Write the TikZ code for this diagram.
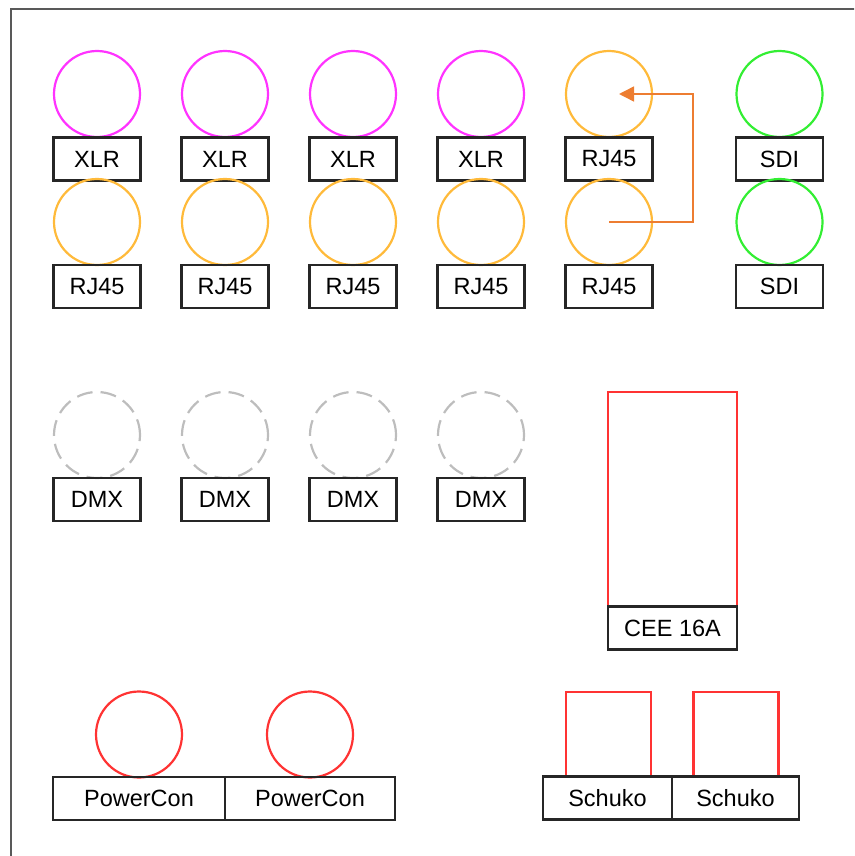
\documentclass[tikz,border=0pt]{standalone}
\usepackage{fontspec}
\setmainfont{Liberation Sans}
\usetikzlibrary{arrows.meta}

\definecolor{xlrpink}{HTML}{FF33FF}
\definecolor{rjgold}{HTML}{FFBA3A}
\definecolor{sdigreen}{HTML}{33EE33}
\definecolor{powerred}{HTML}{FF3333}
\definecolor{dmxgray}{HTML}{BDBDBD}
\definecolor{linkorange}{HTML}{ED7D31}

\tikzset{
  port/.style={circle, draw=#1, line width=2.2pt, minimum size=86pt, inner sep=0pt},
  socket/.style={rectangle, draw=powerred, line width=2.2pt, inner sep=0pt},
  tag/.style={rectangle, draw=black!85, line width=2.2pt, minimum width=87pt,
    minimum height=43pt, inner sep=0pt, font=\fontsize{23.5}{26}\selectfont},
}

\begin{document}
\begin{tikzpicture}[x=1pt,y=-1pt]
  \clip (0,0) rectangle (854,856);

  % Panel frame
  \draw[black!65, line width=2.8pt] (11,9) rectangle (900,900);

  % XLR / RJ45 / DMX columns
  \foreach \i/\x in {1/97,2/225,3/353,4/481} {
    \node[port=xlrpink] (xlr\i) at (\x,94) {};
    \node[tag] (xlrtag\i) at (\x,159) {XLR};
    \node[port=rjgold] (rj\i) at (\x,222) {};
    \node[tag] (rjtag\i) at (\x,286.5) {RJ45};
    \node[port=dmxgray, dashed, dash pattern=on 16pt off 8pt] (dmx\i) at (\x,435) {};
    \node[tag] (dmxtag\i) at (\x,499.5) {DMX};
  }

  % RJ45 pair with link
  \node[port=rjgold] (rjtop) at (609,94) {};
  \node[tag] (rjtoptag) at (609,159) {RJ45};
  \node[port=rjgold] (rjbot) at (609,222) {};
  \node[tag] (rjbottag) at (609,286.5) {RJ45};

  % SDI
  \node[port=sdigreen] (sditop) at (779.5,94) {};
  \node[tag] (sditoptag) at (779.5,159) {SDI};
  \node[port=sdigreen] (sdibot) at (779.5,222) {};
  \node[tag] (sdibottag) at (779.5,286.5) {SDI};

  % Link arrow
  \coordinate (linkend) at ([xshift=10pt]rjtop.center);
  \draw[linkorange, line width=1.5pt, -{Triangle[length=15pt,width=15pt]}]
    (rjbot.center) -- ++(84,0) |- (linkend);

  % CEE 16A
  \node[socket, minimum width=129pt, minimum height=214pt] (cee) at (672.5,499) {};
  \node[tag, minimum width=129pt] (ceetag) at (672.5,628) {CEE 16A};

  % PowerCon
  \node[port=powerred] (pcon1) at (139,734.5) {};
  \node[port=powerred] (pcon2) at (310,734.5) {};
  \node[tag, minimum width=172pt] (pcontag1) at (139,798.5) {PowerCon};
  \node[tag, minimum width=170pt] (pcontag2) at (310,798.5) {PowerCon};

  % Schuko
  \node[socket, minimum size=85pt] (schuko1) at (608.5,734.5) {};
  \node[socket, minimum size=85pt] (schuko2) at (736,734.5) {};
  \node[tag, minimum width=129pt] (schukotag1) at (607.5,798) {Schuko};
  \node[tag, minimum width=127pt] (schukotag2) at (735.5,798) {Schuko};
\end{tikzpicture}
\end{document}
